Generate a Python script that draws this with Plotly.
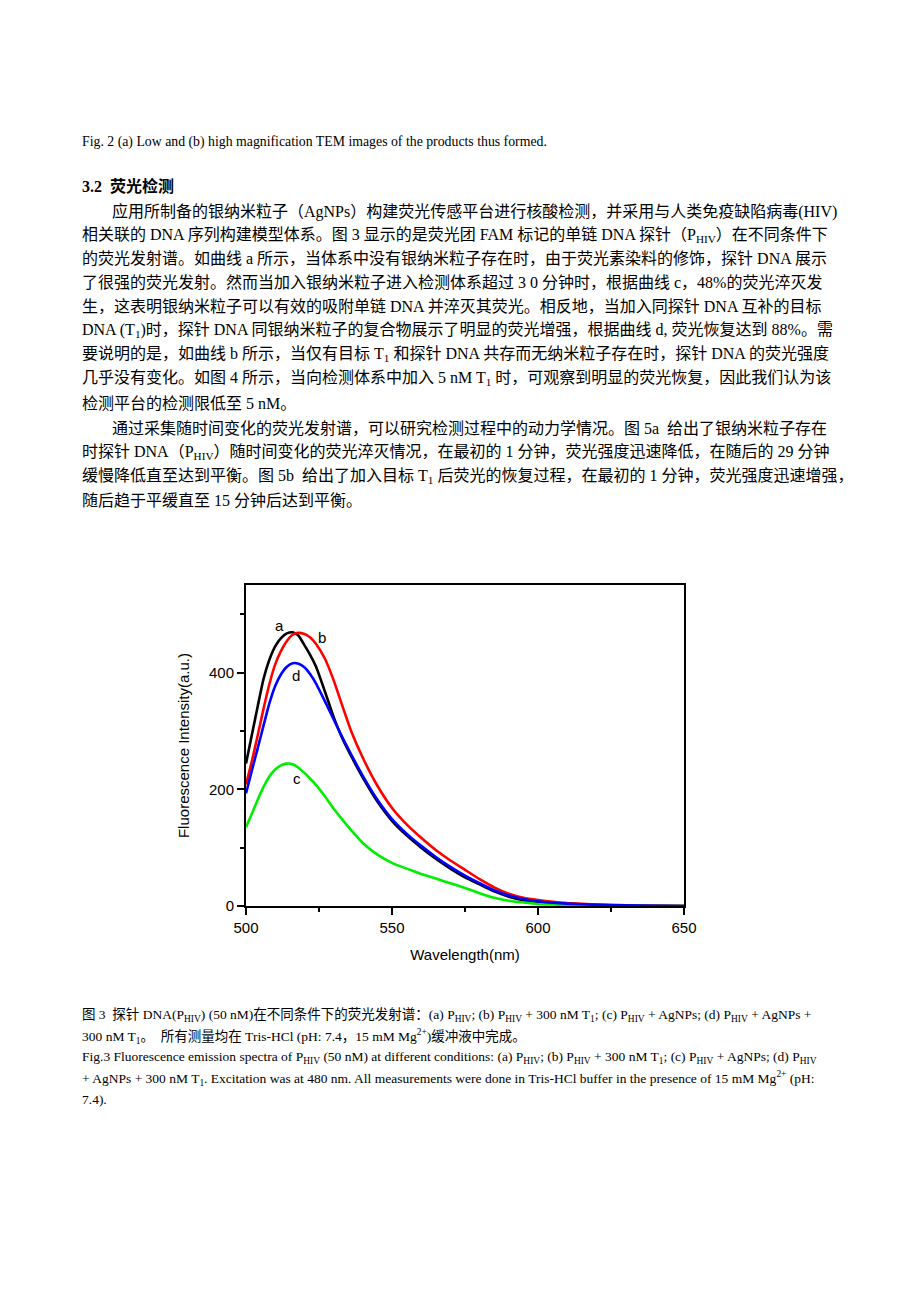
import plotly.graph_objects as go

# Espectros de fluorescência
wavelength = [500, 502, 504, 506, 508, 510, 512, 514, 516, 518, 520, 522, 524, 527, 530,
              533, 536, 540, 545, 550, 555, 560, 565, 570, 575, 580, 585, 590, 595, 600,
              605, 610, 620, 630, 640, 650]
curve_a = [244, 293, 342, 389, 422, 445, 459, 467, 469, 463, 447, 430, 410, 368, 324,
           287, 257, 220, 179, 146, 121, 100, 81, 64, 49, 37, 25, 16, 10, 7,
           4.5, 3.2, 1.5, 0.6, 0.2, 0]
curve_b = [208, 248, 292, 338, 380, 414, 437, 454, 465, 468, 466, 460, 449, 424, 387,
           343, 300, 254, 206, 168, 140, 117, 96, 78, 62, 46, 32, 21, 14, 10,
           7, 5, 2.5, 1, 0.5, 0]
curve_c = [135, 158, 182, 204, 222, 234, 241, 244, 243, 237, 228, 218, 207, 188, 167,
           148, 130, 108, 88, 74, 64, 55, 47, 39, 31, 22, 14, 9, 6, 3.5,
           2.5, 2, 1, 0.5, 0, 0]
curve_d = [193, 232, 270, 309, 347, 377, 397, 410, 416, 415, 409, 397, 381, 351, 320,
           289, 260, 223, 182, 149, 124, 103, 84, 67, 52, 39, 27, 18, 12, 8,
           5.5, 4, 2, 1, 0.5, 0]

series_names = ['a', 'b', 'c', 'd']
series_values = [curve_a, curve_b, curve_c, curve_d]
series_colors = ['#000000', '#ff0000', '#00ee00', '#0000ff']
# posição dos rótulos a, b, c, d (em unidades dos eixos)
label_x = [511.3, 526.1, 517.6, 517.2]
label_y = [481, 460, 218, 395]

# a página html tem margem de 8px no body
OFF = 8
W, H = 920 - 2 * OFF, 1302 - 2 * OFF
def px(x):
    return (x - OFF) / W
def py(y):
    return 1 - (y - OFF) / H

fig = go.Figure()
for name, vals, col in zip(series_names, series_values, series_colors):
    fig.add_trace(go.Scatter(x=wavelength, y=vals, mode='lines', name=name,
                             line=dict(color=col, width=2.6, shape='spline', smoothing=0.5)))

for name, lx, ly in zip(series_names, label_x, label_y):
    fig.add_annotation(x=lx, y=ly, xref='x', yref='y', text=name, showarrow=False,
                       font=dict(family='Liberation Sans, Arial', size=15, color='black'))

axis_common = dict(showline=True, linewidth=2, linecolor='black', mirror=True,
                   showgrid=False, zeroline=False, ticks='outside', ticklen=7,
                   tickwidth=2, tickcolor='black', automargin=False,
                   tickfont=dict(family='Liberation Sans, Arial', size=15, color='black'))

fig.update_xaxes(range=[500, 650], tickvals=[500, 550, 600, 650],
                 minor=dict(tickvals=[525, 575, 625], ticks='outside', ticklen=4,
                            tickwidth=2, tickcolor='black'),
                 domain=[px(246), px(684)],
                 title=dict(text='Wavelength(nm)', standoff=14,
                            font=dict(family='Liberation Sans, Arial', size=15, color='black')),
                 **axis_common)
fig.update_yaxes(range=[0, 550], tickvals=[0, 200, 400],
                 minor=dict(tickvals=[100, 300, 500], ticks='outside', ticklen=4,
                            tickwidth=2, tickcolor='black'),
                 domain=[py(906), py(585)],
                 title=dict(text='Fluorescence Intensity(a.u.)', standoff=16,
                            font=dict(family='Liberation Sans, Arial', size=15, color='black')),
                 **axis_common)

# Texto da página (artigo)
serif = 'Liberation Serif, Noto Sans CJK SC'
page_lines = [
    (80, 142, 'Fig. 2 (a) Low and (b) high magnification TEM images of the products thus formed.', 13.8),
]
heading = (80, 186, '<b>3.2  荧光检测</b>', 16)
para1 = [
    '应用所制备的银纳米粒子（AgNPs）构建荧光传感平台进行核酸检测，并采用与人类免疫缺陷病毒(HIV)',
    '相关联的 DNA 序列构建模型体系。图 3 显示的是荧光团 FAM 标记的单链 DNA 探针（P<sub>HIV</sub>）在不同条件下',
    '的荧光发射谱。如曲线 a 所示，当体系中没有银纳米粒子存在时，由于荧光素染料的修饰，探针 DNA 展示',
    '了很强的荧光发射。然而当加入银纳米粒子进入检测体系超过 3 0 分钟时，根据曲线 c，48%的荧光淬灭发',
    '生，这表明银纳米粒子可以有效的吸附单链 DNA 并淬灭其荧光。相反地，当加入同探针 DNA 互补的目标',
    'DNA (T<sub>1</sub>)时，探针 DNA 同银纳米粒子的复合物展示了明显的荧光增强，根据曲线 d, 荧光恢复达到 88%。需',
    '要说明的是，如曲线 b 所示，当仅有目标 T<sub>1</sub> 和探针 DNA 共存而无纳米粒子存在时，探针 DNA 的荧光强度',
    '几乎没有变化。如图 4 所示，当向检测体系中加入 5 nM T<sub>1</sub> 时，可观察到明显的荧光恢复，因此我们认为该',
    '检测平台的检测限低至 5 nM。',
]
para2 = [
    '通过采集随时间变化的荧光发射谱，可以研究检测过程中的动力学情况。图 5a  给出了银纳米粒子存在',
    '时探针 DNA（P<sub>HIV</sub>）随时间变化的荧光淬灭情况，在最初的 1 分钟，荧光强度迅速降低，在随后的 29 分钟',
    '缓慢降低直至达到平衡。图 5b  给出了加入目标 T<sub>1</sub> 后荧光的恢复过程，在最初的 1 分钟，荧光强度迅速增强，',
    '随后趋于平缓直至 15 分钟后达到平衡。',
]
caption = [
    '图 3  探针 DNA(P<sub>HIV</sub>) (50 nM)在不同条件下的荧光发射谱：(a) P<sub>HIV</sub>; (b) P<sub>HIV</sub> + 300 nM T<sub>1</sub>; (c) P<sub>HIV</sub> + AgNPs; (d) P<sub>HIV</sub> + AgNPs +',
    '300 nM T<sub>1</sub>。  所有测量均在 Tris-HCl (pH: 7.4，15 mM Mg<sup>2+</sup>)缓冲液中完成。',
    'Fig.3 Fluorescence emission spectra of P<sub>HIV</sub> (50 nM) at different conditions: (a) P<sub>HIV</sub>; (b) P<sub>HIV</sub> + 300 nM T<sub>1</sub>; (c) P<sub>HIV</sub> + AgNPs; (d) P<sub>HIV</sub>',
    '+ AgNPs + 300 nM T<sub>1</sub>. Excitation was at 480 nm. All measurements were done in Tris-HCl buffer in the presence of 15 mM Mg<sup>2+</sup> (pH:',
    '7.4).',
]

for i, t in enumerate(para1):
    page_lines.append((110 if i == 0 else 80, 211 + 24 * i, t, 16))
for i, t in enumerate(para2):
    page_lines.append((110 if i == 0 else 80, 428 + 24 * i, t, 16))
for i, t in enumerate(caption):
    page_lines.append((80, 1015 + 21 * i, t, 13.5))
page_lines.append(heading)

for x0, y0, t, fs in page_lines:
    fig.add_annotation(x=px(x0), y=py(y0), xref='paper', yref='paper', text=t,
                       showarrow=False, xanchor='left', yanchor='middle', align='left',
                       font=dict(family=serif, size=fs, color='black'))

fig.update_layout(width=W, height=H, margin=dict(l=0, r=0, t=0, b=0),
                  paper_bgcolor='white', plot_bgcolor='white', showlegend=False)

fig.write_html("out.html")
